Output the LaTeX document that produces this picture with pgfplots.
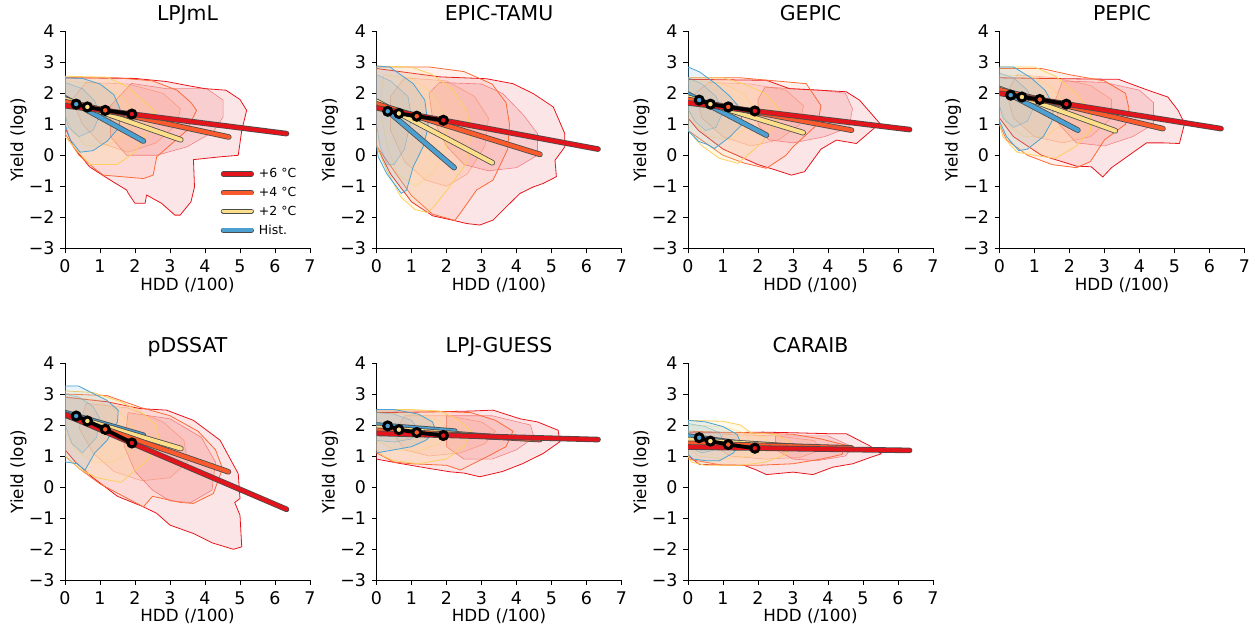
\documentclass[border=0pt]{standalone}
\usepackage{fontspec}
\setmainfont{DejaVu Sans}
\usepackage{pgfplots}
\pgfplotsset{compat=1.18}

\definecolor{cR}{HTML}{E3141B}
\definecolor{cO}{HTML}{FB5A2D}
\definecolor{cY}{HTML}{FDDF8A}
\definecolor{cB}{HTML}{4CA0D1}
\definecolor{lR}{HTML}{E8161C}
\definecolor{lO}{HTML}{FC6A38}
\definecolor{lY}{HTML}{FCCF5E}
\definecolor{lB}{HTML}{4AA3D4}

\pgfplotsset{
  panel/.style={
    anchor=south west, scale only axis, width=245bp, height=217bp,
    xmin=0, xmax=7, ymin=-3, ymax=4,
    axis x line*=bottom, axis y line*=left,
    axis line style={-, line width=0.9bp},
    xtick={0,...,7}, ytick={-3,...,4},
    xticklabels={0,1,2,3,4,5,6,7},
    yticklabels={−3,−2,−1,0,1,2,3,4},
    tick align=outside, major tick length=5bp,
    tick style={line width=0.9bp, black},
    ticklabel style={font=\fontsize{17.5}{17.5}\selectfont},
    xticklabel style={yshift=-3bp},
    yticklabel style={xshift=-2bp},
    xlabel={HDD (/100)}, ylabel={Yield (log)},
    label style={font=\fontsize{16.8}{16.8}\selectfont},
    xlabel style={at={(axis description cs:0.5,-0.1935)}, anchor=base},
    ylabel style={at={(axis description cs:-0.19,0.5)}, anchor=center},
    title style={at={(axis description cs:0.5,1)}, anchor=base, yshift=4.5bp,
                 font=\fontsize{20.5}{20.5}\selectfont},
  },
  % density envelopes (outer level) and an inner level
  hullR/.style={forget plot, draw=lR, line width=0.8bp, line join=round, fill=cR, fill opacity=0.11},
  hullO/.style={forget plot, draw=lO, line width=0.8bp, line join=round, fill=cO, fill opacity=0.09},
  hullY/.style={forget plot, draw=lY, line width=0.8bp, line join=round, fill=cY, fill opacity=0.18},
  hullB/.style={forget plot, draw=lB, line width=0.8bp, line join=round, fill=cB, fill opacity=0.12},
  coreR/.style={forget plot, draw=lR, draw opacity=0.45, line width=0.6bp, line join=round, fill=cR, fill opacity=0.11},
  coreO/.style={forget plot, draw=lO, draw opacity=0.45, line width=0.6bp, line join=round, fill=cO, fill opacity=0.07},
  coreY/.style={forget plot, draw=lY, draw opacity=0.5, line width=0.6bp, line join=round, fill=cY, fill opacity=0.12},
  coreB/.style={forget plot, draw=lB, draw opacity=0.5, line width=0.6bp, line join=round, fill=cB, fill opacity=0.09},
  % regression lines with a dark edge
  fitedge/.style={forget plot, black!70, line width=5.6bp, line cap=round},
  fitR/.style={forget plot, cR, line width=4bp, line cap=round},
  fitO/.style={forget plot, cO, line width=4bp, line cap=round},
  fitY/.style={forget plot, cY, line width=4bp, line cap=round},
  fitB/.style={forget plot, cB, line width=4bp, line cap=round},
  meanline/.style={forget plot, black, line width=3.8bp},
  meanmark/.style={forget plot, only marks, mark=*, mark size=4bp},
}

\newcommand{\hull}[2]{\addplot[hull#1] coordinates {#2} --cycle;}
\newcommand{\core}[2]{\addplot[core#1] coordinates {#2} --cycle;}
\newcommand{\fit}[3]{\addplot[fitedge] coordinates {#2 #3};\addplot[fit#1] coordinates {#2 #3};}
\newcommand{\means}[4]{%
  \addplot[meanline] coordinates {(0.32,#1)(0.64,#2)(1.15,#3)(1.91,#4)};
  \addplot[meanmark, mark options={fill=cB, draw=black, line width=3bp}] coordinates {(0.32,#1)};
  \addplot[meanmark, mark options={fill=cY, draw=black, line width=3bp}] coordinates {(0.64,#2)};
  \addplot[meanmark, mark options={fill=cO, draw=black, line width=3bp}] coordinates {(1.15,#3)};
  \addplot[meanmark, mark options={fill=cR, draw=black, line width=3bp}] coordinates {(1.91,#4)};
}

\begin{document}
\begin{tikzpicture}
\useasboundingbox (0bp,0bp) rectangle (1258bp,628bp);

% ---------------- LPJmL ----------------
\begin{axis}[panel, at={(65bp,379.7bp)}, title={LPJmL},
  legend style={at={(axis description cs:0.631,0.382)}, anchor=north west, draw=none, fill=none,
    font=\fontsize{12.5}{12.5}\selectfont, row sep=4bp, inner sep=1bp, nodes={inner sep=2bp},
    /tikz/every odd column/.style={column sep=3bp}},
  legend cell align=left,
  legend image code/.code={
    \draw[black!70, line width=5.2bp, line cap=round] (0bp,0bp) -- (28bp,0bp);
    \draw[#1, line width=3.8bp, line cap=round] (0bp,0bp) -- (28bp,0bp);}]
\hull{R}{(0,2.5)(2.0,2.48)(2.9,2.38)(3.5,2.25)(4.0,2.15)(4.6,2.1)(5.0,1.8)(5.19,1.45)(5.05,0.8)(4.95,0.0)(4.43,-0.05)(3.67,-0.14)(3.7,-1.02)(3.6,-1.5)(3.29,-1.93)(3.14,-1.93)(2.76,-1.55)(2.33,-1.28)(2.29,-1.55)(2.0,-1.55)(1.81,-1.23)(1.76,-1.12)(1.38,-0.86)(1.0,-0.59)(0.7,-0.37)(0.24,0.27)(0,0.9)}
\core{R}{(1.9,2.32)(2.9,2.15)(4.05,2.15)(4.52,1.78)(4.52,1.24)(4.24,0.76)(3.48,0.27)(2.62,0.0)(1.76,0.0)(1.3,0.6)(1.3,1.6)}
\hull{O}{(0,2.5)(1.5,2.5)(2.5,2.4)(3.2,2.1)(3.6,1.7)(3.76,1.45)(3.48,0.8)(2.62,-0.05)(2.52,-0.64)(2.24,-0.75)(1.1,-0.64)(0.9,-0.48)(0.4,0.0)(0,0.7)}
\core{O}{(0.6,2.35)(1.8,2.3)(2.8,2.0)(3.3,1.5)(3.2,1.0)(2.6,0.4)(1.8,0.1)(1.0,0.4)(0.5,1.0)(0.2,1.8)}
\hull{Y}{(0,2.55)(1.2,2.52)(1.8,2.2)(2.2,1.8)(2.57,1.42)(2.4,0.8)(2.0,0.1)(1.48,-0.3)(0.71,-0.3)(0.35,0.15)(0,0.6)}
\core{Y}{(0,2.4)(1.0,2.3)(1.7,1.85)(2.0,1.3)(1.8,0.7)(1.2,0.3)(0.6,0.3)(0.2,0.8)(0,1.3)}
\hull{B}{(0,2.5)(0.5,2.48)(1.0,2.3)(1.4,1.95)(1.57,1.5)(1.55,0.9)(1.2,0.45)(0.8,0.15)(0.43,0.1)(0.15,0.5)(0,1.0)}
\core{B}{(0,2.35)(0.5,2.15)(0.85,1.75)(1.0,1.3)(0.8,0.8)(0.4,0.6)(0.1,0.9)(0,1.3)}
\fit{B}{(0,1.85)}{(2.24,0.46)}
\fit{Y}{(0,1.81)}{(3.31,0.5)}
\fit{O}{(0,1.73)}{(4.68,0.59)}
\fit{R}{(0,1.60)}{(6.33,0.7)}
\means{1.65}{1.56}{1.45}{1.33}
\addlegendimage{draw=cR}\addlegendentry{+6 °C}
\addlegendimage{draw=cO}\addlegendentry{+4 °C}
\addlegendimage{draw=cY}\addlegendentry{+2 °C}
\addlegendimage{draw=cB}\addlegendentry{Hist.}
\end{axis}

% ---------------- EPIC-TAMU ----------------
\begin{axis}[panel, at={(376.5bp,379.7bp)}, title={EPIC-TAMU}]
\hull{R}{(0,2.8)(1.81,2.53)(3.14,2.47)(3.9,2.31)(4.48,1.99)(5.05,1.56)(5.38,0.7)(5.38,0.27)(5.1,-0.16)(5.14,-0.69)(4.76,-0.91)(4.48,-1.02)(4.1,-1.23)(3.71,-1.66)(3.33,-2.09)(2.95,-2.25)(2.57,-2.2)(2.2,-2.1)(1.6,-1.95)(1.0,-1.5)(0.4,-0.6)(0,0.3)}
\core{R}{(1.8,2.35)(3.0,2.3)(3.6,2.0)(4.2,1.3)(4.6,0.7)(4.6,0.0)(4.0,-0.4)(3.2,-0.5)(2.5,-0.3)(2.0,0.3)(1.6,1.2)(1.5,2.0)}
\hull{O}{(0,2.85)(1.5,2.85)(2.5,2.7)(3.3,2.3)(3.7,1.7)(3.8,1.0)(3.75,0.2)(3.33,-0.8)(2.86,-1.12)(2.5,-1.7)(2.24,-2.1)(1.6,-1.9)(1.0,-1.3)(0.5,-0.5)(0,0.3)}
\core{O}{(0.8,2.5)(2.0,2.4)(2.8,1.9)(3.2,1.2)(3.1,0.3)(2.6,-0.6)(2.0,-1.0)(1.4,-0.8)(0.8,-0.2)(0.4,0.8)(0.4,1.9)}
\hull{Y}{(0,2.88)(1.0,2.85)(1.6,2.6)(2.2,2.1)(2.6,1.4)(2.68,0.6)(2.6,-0.2)(2.1,-1.0)(1.65,-1.65)(1.45,-1.85)(1.1,-1.75)(0.7,-1.35)(0.3,-0.5)(0,0.3)}
\core{Y}{(0.2,2.6)(1.0,2.5)(1.6,2.0)(2.0,1.2)(2.0,0.2)(1.6,-0.6)(1.1,-1.0)(0.6,-0.6)(0.3,0.3)(0.1,1.5)}
\hull{B}{(0,2.88)(0.38,2.85)(1.05,2.31)(1.38,1.78)(1.48,0.92)(1.33,0.27)(1.05,-0.37)(0.86,-1.12)(0.71,-1.23)(0.29,-0.59)(0.05,-0.05)(0,0.27)}
\core{B}{(0,2.6)(0.4,2.4)(0.9,1.9)(1.0,1.2)(0.8,0.2)(0.5,-0.3)(0.3,-0.3)(0.1,0.3)(0,1.0)}
\fit{B}{(0,1.74)}{(2.22,-0.4)}
\fit{Y}{(0,1.74)}{(3.31,-0.24)}
\fit{O}{(0,1.66)}{(4.67,0.03)}
\fit{R}{(0,1.53)}{(6.33,0.2)}
\means{1.42}{1.35}{1.26}{1.13}
\end{axis}

% ---------------- GEPIC ----------------
\begin{axis}[panel, at={(688bp,379.7bp)}, title={GEPIC}]
\hull{R}{(0,2.45)(2.24,2.42)(2.9,2.15)(3.76,2.1)(4.52,2.05)(4.9,1.78)(5.48,1.03)(4.81,0.38)(4.24,0.49)(3.8,0.2)(3.33,-0.53)(2.95,-0.64)(2.52,-0.48)(2.0,-0.3)(1.0,0.2)(0.3,0.8)(0,1.2)}
\core{R}{(2.2,2.2)(3.8,2.1)(4.5,2.0)(4.7,1.5)(4.6,0.9)(3.9,0.6)(3.0,0.4)(2.3,0.5)(2.0,1.0)(2.0,1.8)}
\hull{O}{(0,2.5)(1.5,2.5)(2.5,2.4)(3.38,2.31)(3.8,1.6)(3.7,1.0)(3.0,0.27)(2.8,0.0)(2.24,-0.42)(1.6,-0.25)(1.0,0.0)(0.5,0.4)(0,0.8)}
\core{O}{(0.6,2.35)(1.8,2.3)(2.8,2.1)(3.3,1.6)(3.2,1.0)(2.6,0.5)(1.8,0.3)(1.0,0.6)(0.4,1.2)(0.2,2.0)}
\hull{Y}{(0,2.5)(1.0,2.5)(1.6,2.3)(2.2,2.0)(2.6,1.5)(2.5,1.0)(2.1,0.4)(1.6,-0.1)(1.43,-0.26)(0.9,-0.1)(0.4,0.3)(0,0.8)}
\core{Y}{(0,2.4)(0.9,2.35)(1.6,2.0)(1.9,1.5)(1.7,0.9)(1.2,0.5)(0.6,0.6)(0.2,1.0)(0,1.5)}
\hull{B}{(0,2.85)(0.33,2.69)(0.8,2.3)(1.2,1.9)(1.5,1.5)(1.55,1.0)(1.2,0.6)(0.76,0.22)(0.55,0.35)(0.3,0.45)(0,0.8)}
\core{B}{(0,2.5)(0.4,2.3)(0.8,1.9)(1.0,1.4)(0.8,0.9)(0.5,0.8)(0.2,1.1)(0,1.5)}
\fit{B}{(0,1.97)}{(2.24,0.65)}
\fit{Y}{(0,1.87)}{(3.29,0.73)}
\fit{O}{(0,1.80)}{(4.67,0.81)}
\fit{R}{(0,1.69)}{(6.33,0.83)}
\means{1.78}{1.65}{1.56}{1.43}
\end{axis}

% ---------------- PEPIC ----------------
\begin{axis}[panel, at={(999.5bp,379.7bp)}, title={PEPIC}]
\hull{R}{(0,2.5)(1.9,2.47)(3.4,2.45)(4.24,2.1)(4.81,1.88)(5.1,1.45)(5.29,1.03)(5.14,0.38)(4.7,0.4)(4.2,0.4)(3.7,0.0)(3.2,-0.4)(2.95,-0.7)(2.62,-0.37)(2.2,-0.35)(1.2,0.0)(0.4,0.6)(0,1.2)}
\core{R}{(1.8,2.4)(3.0,2.35)(4.0,2.1)(4.4,1.7)(4.4,1.0)(3.8,0.6)(3.0,0.3)(2.2,0.4)(1.7,1.0)(1.6,1.8)}
\hull{O}{(0,2.8)(1.2,2.8)(2.0,2.6)(3.0,2.4)(3.6,2.0)(3.7,1.5)(3.6,1.0)(3.0,0.5)(2.6,-0.2)(2.2,-0.4)(1.5,-0.3)(0.8,0.0)(0.2,0.5)(0,1.0)}
\core{O}{(0.5,2.6)(1.6,2.5)(2.6,2.25)(3.2,1.8)(3.2,1.2)(2.6,0.6)(1.8,0.4)(1.0,0.6)(0.4,1.2)(0.2,2.0)}
\hull{Y}{(0,2.85)(1.0,2.85)(1.6,2.55)(2.2,2.0)(2.6,1.4)(2.6,0.8)(2.2,0.3)(1.6,-0.1)(1.0,0.0)(0.5,0.1)(0.1,0.6)(0,1.0)}
\core{Y}{(0,2.6)(0.9,2.55)(1.5,2.2)(1.9,1.6)(1.8,1.0)(1.3,0.6)(0.7,0.6)(0.2,1.0)(0,1.6)}
\hull{B}{(0,2.85)(0.4,2.85)(0.9,2.5)(1.3,2.1)(1.55,1.6)(1.5,1.1)(1.25,0.6)(0.8,0.2)(0.55,0.15)(0.2,0.6)(0,1.1)}
\core{B}{(0,2.65)(0.4,2.5)(0.8,2.1)(1.0,1.6)(0.8,1.1)(0.4,0.9)(0.1,1.2)(0,1.6)}
\fit{B}{(0,2.14)}{(2.24,0.81)}
\fit{Y}{(0,2.15)}{(3.31,0.79)}
\fit{O}{(0,2.11)}{(4.67,0.86)}
\fit{R}{(0,2.00)}{(6.33,0.86)}
\means{1.94}{1.88}{1.80}{1.65}
\end{axis}

% ---------------- pDSSAT ----------------
\begin{axis}[panel, at={(65bp,48bp)}, title={pDSSAT}]
\hull{R}{(0,2.9)(1.2,2.75)(2.14,2.53)(2.9,2.48)(3.67,2.15)(4.43,1.51)(4.95,0.43)(5.0,-0.37)(4.85,-0.5)(5.0,-0.91)(5.05,-1.93)(4.81,-2.01)(4.2,-1.8)(3.67,-1.5)(3.0,-1.23)(2.62,-0.85)(2.24,-0.64)(1.5,-0.3)(0.8,0.3)(0.3,0.8)(0,1.2)}
\core{R}{(1.8,2.4)(3.0,2.2)(3.9,1.6)(4.3,0.8)(4.2,-0.1)(3.6,-0.5)(3.0,-0.45)(2.5,-0.1)(2.0,0.5)(1.7,1.3)}
\hull{O}{(0,3.0)(1.2,2.95)(2.2,2.55)(3.0,2.3)(3.8,1.8)(4.3,1.2)(4.5,0.6)(4.24,-0.21)(3.67,-0.53)(3.3,-0.5)(2.5,-0.3)(2.24,-0.64)(1.5,-0.2)(1.0,0.1)(0.4,0.6)(0,1.0)}
\core{O}{(0.6,2.7)(1.8,2.55)(2.8,2.1)(3.4,1.5)(3.5,0.8)(3.0,0.3)(2.2,0.2)(1.4,0.5)(0.8,1.1)(0.4,1.9)}
\hull{Y}{(0,3.1)(0.8,3.05)(1.6,2.75)(2.2,2.4)(2.6,2.0)(2.7,1.5)(2.4,0.9)(1.6,0.15)(0.9,0.3)(0.4,0.6)(0,1.0)}
\core{Y}{(0,2.9)(0.9,2.8)(1.6,2.4)(2.0,1.8)(1.9,1.2)(1.4,0.8)(0.8,0.8)(0.3,1.2)(0,1.8)}
\hull{B}{(0,3.26)(0.38,3.26)(1.19,2.8)(1.52,2.48)(1.5,2.1)(1.2,1.5)(0.85,1.1)(0.57,0.54)(0.35,0.75)(0,0.81)}
\core{B}{(0,3.0)(0.4,2.9)(0.8,2.6)(1.0,2.2)(0.9,1.6)(0.5,1.1)(0.2,1.4)(0,2.0)}
\fit{B}{(0,2.40)}{(2.24,1.67)}
\fit{Y}{(0,2.35)}{(3.31,1.24)}
\fit{O}{(0,2.32)}{(4.67,0.49)}
\fit{R}{(0,2.34)}{(6.33,-0.72)}
\means{2.29}{2.13}{1.86}{1.42}
\end{axis}

% ---------------- LPJ-GUESS ----------------
\begin{axis}[panel, at={(376.5bp,48bp)}, title={LPJ-GUESS}]
\hull{R}{(0,2.4)(1.5,2.42)(2.7,2.45)(3.33,2.48)(4.1,2.2)(4.6,2.1)(5.19,1.83)(5.24,1.46)(4.76,1.08)(4.19,0.76)(3.6,0.5)(2.95,0.33)(2.5,0.45)(2.1,0.49)(1.5,0.6)(0.67,0.76)(0,0.9)}
\core{R}{(2.0,2.3)(3.3,2.3)(4.4,2.0)(4.5,1.6)(4.0,1.2)(3.3,0.9)(2.5,0.9)(2.0,1.3)}
\hull{O}{(0,2.45)(1.5,2.45)(2.7,2.4)(3.4,2.15)(3.9,1.8)(3.7,1.3)(3.2,1.0)(2.4,0.55)(2.0,0.7)(1.0,0.75)(0.5,0.8)(0,1.1)}
\core{O}{(0.8,2.3)(2.0,2.3)(3.0,2.1)(3.4,1.8)(3.1,1.4)(2.4,1.1)(1.5,1.0)(0.8,1.2)(0.5,1.7)}
\hull{Y}{(0,2.5)(1.0,2.5)(1.8,2.45)(2.3,2.2)(2.7,1.8)(2.5,1.3)(2.0,0.9)(1.2,0.75)(0.5,0.85)(0.2,1.0)(0,1.2)}
\core{Y}{(0,2.4)(1.0,2.35)(1.8,2.15)(2.1,1.8)(1.8,1.4)(1.2,1.15)(0.5,1.2)(0,1.5)}
\hull{B}{(0,2.5)(0.5,2.5)(1.2,2.35)(1.6,2.1)(1.7,1.8)(1.4,1.5)(1.0,1.3)(0.5,1.2)(0,1.1)}
\core{B}{(0,2.4)(0.5,2.35)(1.0,2.15)(1.2,1.85)(1.0,1.55)(0.5,1.45)(0,1.5)}
\fit{B}{(0,2.00)}{(2.24,1.80)}
\fit{Y}{(0,1.92)}{(3.33,1.62)}
\fit{O}{(0,1.83)}{(4.67,1.53)}
\fit{R}{(0,1.73)}{(6.33,1.53)}
\means{1.97}{1.85}{1.76}{1.66}
\end{axis}

% ---------------- CARAIB ----------------
\begin{axis}[panel, at={(688bp,48bp)}, title={CARAIB}]
\hull{R}{(0,1.75)(1.0,1.75)(2.14,1.77)(3.0,1.75)(4.0,1.72)(4.52,1.72)(5.19,1.33)(5.52,1.07)(5.2,0.95)(4.71,0.75)(4.14,0.64)(3.57,0.4)(3.0,0.48)(2.24,0.4)(1.95,0.55)(1.6,0.7)(0.6,0.72)(0.33,0.73)(0,1.0)}
\core{R}{(2.5,1.65)(4.0,1.65)(4.7,1.3)(4.5,1.0)(3.7,0.85)(3.0,0.9)(2.5,1.2)}
\hull{O}{(0,1.8)(1.5,1.75)(3.0,1.7)(3.8,1.55)(4.5,1.35)(4.4,1.05)(3.8,0.9)(3.0,0.75)(2.0,0.7)(1.0,0.7)(0,0.9)}
\core{O}{(1.0,1.7)(2.5,1.65)(3.6,1.5)(3.8,1.2)(3.2,0.95)(2.2,0.9)(1.2,1.0)(0.8,1.3)}
\hull{Y}{(0,2.15)(1.0,2.12)(1.5,2.0)(1.8,1.75)(2.5,1.7)(2.9,1.45)(2.8,1.05)(2.2,0.8)(1.5,0.7)(0.5,0.7)(0.1,0.8)(0,1.0)}
\core{Y}{(0,2.0)(1.0,1.95)(1.6,1.75)(2.2,1.6)(2.4,1.3)(1.8,1.0)(1.0,0.9)(0.3,1.0)(0,1.3)}
\hull{B}{(0,2.15)(0.5,2.1)(1.0,1.95)(1.4,1.7)(1.5,1.45)(1.3,1.1)(0.9,0.85)(0.5,0.85)(0.15,0.9)(0,1.05)}
\core{B}{(0,2.05)(0.5,1.95)(0.9,1.75)(1.0,1.5)(0.8,1.2)(0.4,1.1)(0,1.3)}
\fit{B}{(0,1.64)}{(2.24,1.29)}
\fit{Y}{(0,1.53)}{(3.31,1.29)}
\fit{O}{(0,1.41)}{(4.67,1.26)}
\fit{R}{(0,1.29)}{(6.33,1.18)}
\means{1.59}{1.48}{1.37}{1.25}
\end{axis}
\end{tikzpicture}
\end{document}
